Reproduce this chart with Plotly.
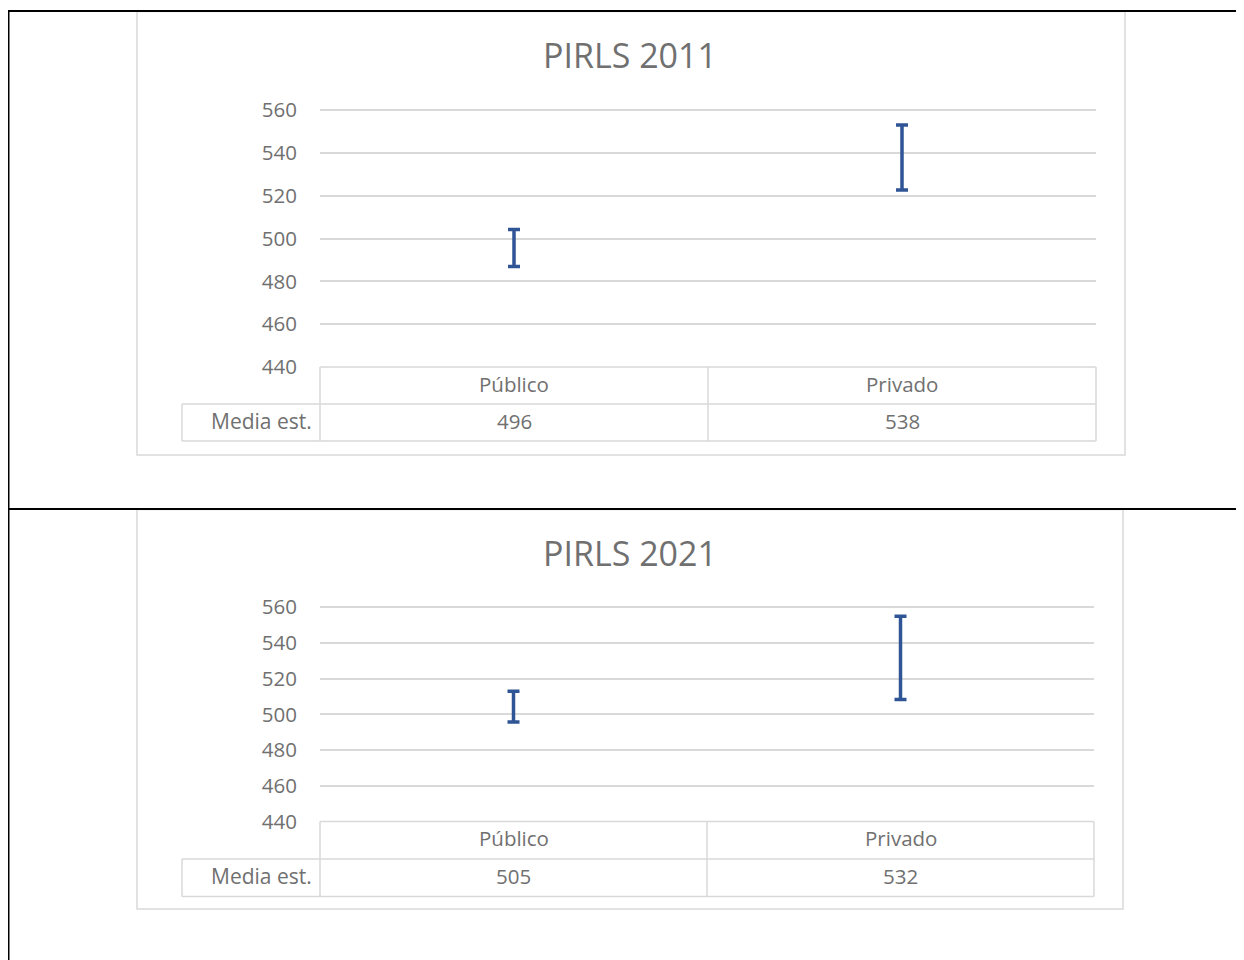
import plotly.graph_objects as go

# ---- data ----
categorias = ["Público", "Privado"]
titulos = ["PIRLS 2011", "PIRLS 2021"]
etiqueta_fila = "Media est."
media_2011 = [496, 538]
inf_2011 = [486.9, 522.6]
sup_2011 = [504.2, 553.0]
media_2021 = [505, 532]
inf_2021 = [495.8, 508.4]
sup_2021 = [512.9, 555.0]
y_ticks = [440, 460, 480, 500, 520, 540, 560]

W, H = 1244, 960
OFF = 8  # page body margin compensation
FONT = "Open Sans"
TXT = "#707070"
GRID = "#d9d9d9"
BLUE = "#2F5597"


def px(x):
    return (x - OFF) / W


def py(y):
    return 1 - (y - OFF) / H


fig = go.Figure()

panels = [
    dict(media=media_2011, inf=inf_2011, sup=sup_2011, title=titulos[0],
         xa="x", ya="y", x0=320, x1=1096, top=110, bot=367, row=404, tbot=441,
         box=(137, 11.5, 1125, 455), title_y=55, mid=708),
    dict(media=media_2021, inf=inf_2021, sup=sup_2021, title=titulos[1],
         xa="x2", ya="y2", x0=320, x1=1094, top=607.3, bot=821.5, row=859, tbot=896.5,
         box=(137, 509.5, 1123, 909), title_y=553, mid=707),
]

shapes = []
annotations = []
for i, p in enumerate(panels):
    fig.add_trace(go.Scatter(
        x=list(range(len(categorias))), y=p["media"],
        mode="markers", marker=dict(size=1, color="rgba(0,0,0,0)"),
        error_y=dict(type="data", symmetric=False,
                     array=[s - m for s, m in zip(p["sup"], p["media"])],
                     arrayminus=[m - l for m, l in zip(p["media"], p["inf"])],
                     color=BLUE, thickness=3.5, width=6),
        xaxis=p["xa"], yaxis=p["ya"], showlegend=False, hoverinfo="skip"))

    sfx = "" if i == 0 else "2"
    ext = 2.0  # px of headroom so the top gridline is drawn
    unit = (p["bot"] - p["top"]) / 120.0
    fig.update_layout(**{
        "xaxis" + sfx: dict(domain=[px(p["x0"]), px(p["x1"])], range=[-0.5, 1.5],
                            showticklabels=False, showgrid=False, zeroline=False,
                            showline=False, anchor="y" + sfx, fixedrange=True,
                            automargin=False),
        "yaxis" + sfx: dict(domain=[py(p["bot"]), py(p["top"] - ext)],
                            range=[440, 560 + ext / unit],
                            tickvals=y_ticks, showgrid=True, gridcolor=GRID, gridwidth=1.5,
                            zeroline=False, showline=False, anchor="x" + sfx,
                            ticks="outside", ticklen=18, tickcolor="rgba(0,0,0,0)",
                            tickfont=dict(family=FONT, size=20.5, color=TXT), fixedrange=True,
                            automargin=False),
    })

    bx0, by0, bx1, by1 = p["box"]
    shapes.append(dict(type="rect", xref="paper", yref="paper",
                       x0=px(bx0), x1=px(bx1), y0=py(by1), y1=py(by0),
                       line=dict(color=GRID, width=1.5), layer="below"))
    tl = dict(color=GRID, width=1.5)
    shapes += [
        dict(type="line", xref="paper", yref="paper", x0=px(p["x0"]), x1=px(p["x1"]),
             y0=py(p["bot"]), y1=py(p["bot"]), line=tl),
        dict(type="line", xref="paper", yref="paper", x0=px(182), x1=px(p["x1"]),
             y0=py(p["row"]), y1=py(p["row"]), line=tl),
        dict(type="line", xref="paper", yref="paper", x0=px(182), x1=px(p["x1"]),
             y0=py(p["tbot"]), y1=py(p["tbot"]), line=tl),
        dict(type="line", xref="paper", yref="paper", x0=px(182), x1=px(182),
             y0=py(p["tbot"]), y1=py(p["row"]), line=tl),
        dict(type="line", xref="paper", yref="paper", x0=px(p["x0"]), x1=px(p["x0"]),
             y0=py(p["tbot"]), y1=py(p["bot"]), line=tl),
        dict(type="line", xref="paper", yref="paper", x0=px(p["mid"]), x1=px(p["mid"]),
             y0=py(p["tbot"]), y1=py(p["bot"]), line=tl),
        dict(type="line", xref="paper", yref="paper", x0=px(p["x1"]), x1=px(p["x1"]),
             y0=py(p["tbot"]), y1=py(p["bot"]), line=tl),
    ]
    annotations.append(dict(text=p["title"], x=px(630), y=py(p["title_y"]), xref="paper",
                            yref="paper", showarrow=False, xanchor="center", yanchor="middle",
                            font=dict(family=FONT, size=34, color=TXT)))
    hdr_y = (p["bot"] + p["row"]) / 2 - 2
    val_y = (p["row"] + p["tbot"]) / 2 - 2
    for j, c in enumerate(categorias):
        annotations.append(dict(text=c, x=j, y=py(hdr_y), xref=p["xa"], yref="paper",
                                showarrow=False, xanchor="center", yanchor="middle",
                                font=dict(family=FONT, size=20.5, color=TXT)))
        annotations.append(dict(text=str(p["media"][j]), x=j, y=py(val_y), xref=p["xa"],
                                yref="paper", showarrow=False, xanchor="center",
                                yanchor="middle", font=dict(family=FONT, size=20.5, color=TXT)))
    annotations.append(dict(text=etiqueta_fila, x=px(314), y=py(val_y), xref="paper",
                            yref="paper", showarrow=False, xanchor="right", yanchor="middle",
                            font=dict(family=FONT, size=21, color=TXT)))

blk = dict(color="black", width=2)
shapes += [
    dict(type="line", xref="paper", yref="paper", x0=px(7.5), x1=px(W + 4), y0=py(11), y1=py(11), line=blk),
    dict(type="line", xref="paper", yref="paper", x0=px(7.5), x1=px(W + 4), y0=py(509), y1=py(509), line=blk),
    dict(type="line", xref="paper", yref="paper", x0=px(8.5), x1=px(8.5), y0=-0.01, y1=py(10), line=blk),
]

fig.update_layout(width=W, height=H,
                  margin=dict(l=0, r=0, t=0, b=0, pad=0, autoexpand=False),
                  paper_bgcolor="white", plot_bgcolor="white",
                  shapes=shapes, annotations=annotations, showlegend=False)

fig.write_html("out.html", config={"displayModeBar": False})
